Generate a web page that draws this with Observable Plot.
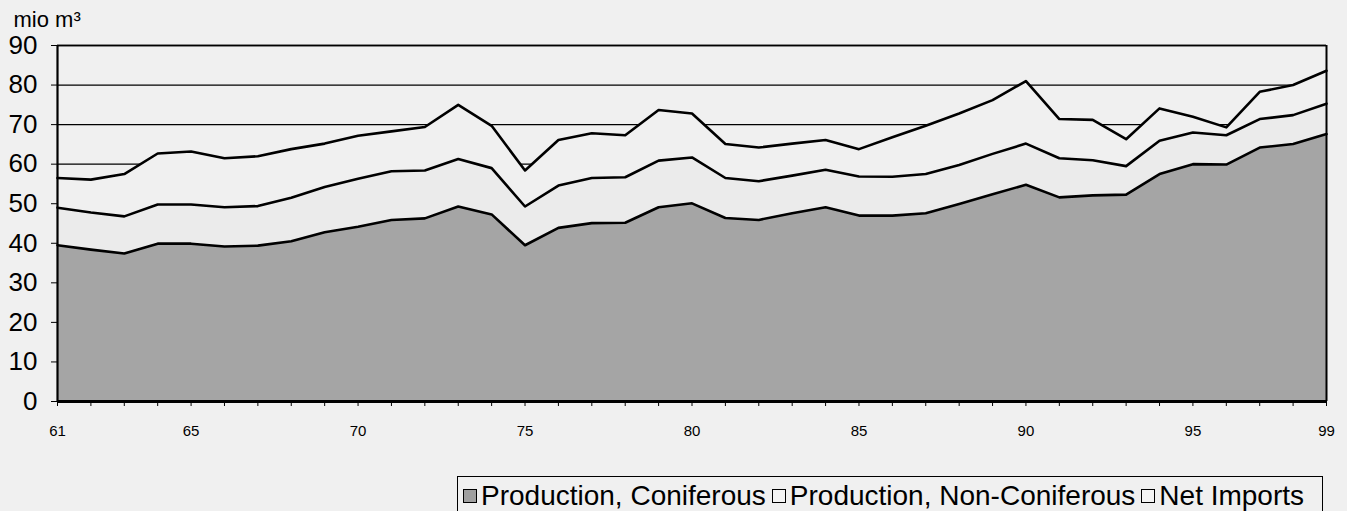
<!DOCTYPE html>
<html>
<head>
<meta charset="utf-8">
<script src="https://cdn.jsdelivr.net/npm/d3@7"></script>
<script src="https://cdn.jsdelivr.net/npm/@observablehq/plot@0.6"></script>
<style>
  body { margin: 0; background: #f0f0f0; font-family: "Liberation Sans", Arial, sans-serif; }
  #wrap { position: relative; width: 1347px; height: 511px; overflow: hidden; background: #f0f0f0; }
  #legend { position: absolute; left: 457px; top: 476px; width: 866px; height: 40px; box-sizing: border-box;
            border: 1.5px solid #000; background: #f0f0f0; display: flex; align-items: center;
            padding-left: 5px; font-size: 28px; color: #000; white-space: nowrap; }
  .sw { display: inline-block; width: 12px; height: 12px; border: 1.5px solid #000; margin-right: 4px; flex: none; }
  .lab { margin-right: 6px; }
</style>
</head>
<body>
<div id="wrap"></div>
<script>
// ---- data ----
const years = [61,62,63,64,65,66,67,68,69,70,71,72,73,74,75,76,77,78,79,80,81,82,83,84,85,86,87,88,89,90,91,92,93,94,95,96,97,98,99];
const coniferous = [39.5,38.4,37.4,39.9,39.9,39.2,39.4,40.5,42.8,44.2,45.9,46.3,49.3,47.3,39.5,43.9,45.1,45.2,49.1,50.1,46.4,45.9,47.6,49.1,47.0,47.0,47.6,49.9,52.4,54.8,51.6,52.1,52.3,57.5,60.0,59.9,64.2,65.1,67.6];
const nonConiferous = [9.5,9.4,9.4,9.9,9.9,9.9,10.0,11.0,11.4,12.1,12.3,12.1,12.0,11.7,9.8,10.7,11.4,11.5,11.8,11.6,10.1,9.8,9.5,9.5,9.9,9.8,9.9,9.9,10.2,10.4,9.9,8.9,7.2,8.4,8.0,7.4,7.2,7.3,7.7];
const netImports = [7.5,8.3,10.7,12.9,13.4,12.4,12.6,12.3,11.0,10.9,10.1,11.0,13.7,10.7,9.1,11.5,11.3,10.6,12.8,11.1,8.6,8.5,8.1,7.5,6.9,10.0,12.2,13.0,13.6,15.8,9.9,10.2,6.8,8.2,4.0,2.0,6.9,7.6,8.3];
const seriesNames = ["Production, Coniferous", "Production, Non-Coniferous", "Net Imports"];
const seriesColors = ["#a5a5a5", "#ebebeb", "#f0f0f0"];
const yTicks = [0,10,20,30,40,50,60,70,80,90];
const xLabelTicks = [61,65,70,75,80,85,90,95,99];
const yUnit = "mio m³";

// ---- table for the library ----
const seriesValues = [coniferous, nonConiferous, netImports];
const rows = [];
years.forEach((yr, i) => {
  seriesNames.forEach((s, k) => rows.push({year: yr, series: s, value: seriesValues[k][i]}));
});

const chart = Plot.plot({
  width: 1347,
  height: 460,
  marginLeft: 57,
  marginRight: 21,
  marginTop: 45,
  marginBottom: 59,
  style: {background: "transparent", fontFamily: "'Liberation Sans', Arial, sans-serif", color: "#000"},
  x: {domain: [years[0], years[years.length - 1]]},
  y: {domain: [yTicks[0], yTicks[yTicks.length - 1]]},
  color: {domain: seriesNames, range: seriesColors},
  marks: [
    Plot.ruleY(yTicks.filter(d => d > 0), {stroke: "#000", strokeWidth: 1.3}),
    Plot.areaY(rows, Plot.stackY({x: "year", y: "value", z: "series", fill: "series", order: seriesNames})),
    Plot.lineY(rows, Plot.stackY2({x: "year", y: "value", z: "series", order: seriesNames, stroke: "#000", strokeWidth: 2.6})),
    Plot.ruleY([yTicks[yTicks.length - 1]], {stroke: "#000", strokeWidth: 1.5}),
    Plot.ruleX([years[years.length - 1]], {y1: yTicks[0], y2: yTicks[yTicks.length - 1], stroke: "#000", strokeWidth: 2}),
    Plot.ruleX([years[0]], {y1: yTicks[0], y2: yTicks[yTicks.length - 1], stroke: "#000", strokeWidth: 2.2}),
    Plot.ruleY([0], {stroke: "#000", strokeWidth: 3}),
    Plot.axisY({ticks: yTicks, tickSize: 6, tickPadding: 14, fontSize: 26, label: null, tickFormat: d => String(d)}),
    Plot.axisX({ticks: years, tickSize: 5, tickFormat: () => "", label: null}),
    Plot.axisX({ticks: xLabelTicks, tickSize: 0, tickPadding: 24, fontSize: 15, label: null, tickFormat: d => String(d)}),
    Plot.text([yUnit], {frameAnchor: "top-left", dx: -44, dy: -19, lineAnchor: "bottom", fontSize: 22, textAnchor: "start", text: d => d})
  ]
});
document.getElementById("wrap").appendChild(chart);

// ---- legend below the plot ----
const legend = document.createElement("div");
legend.id = "legend";
seriesNames.forEach((s, k) => {
  const sw = document.createElement("span");
  sw.className = "sw";
  sw.style.background = k === 0 ? "#a0a0a0" : "#f4f4f4";
  const lab = document.createElement("span");
  lab.className = "lab";
  lab.textContent = s;
  legend.appendChild(sw);
  legend.appendChild(lab);
});
document.getElementById("wrap").appendChild(legend);
</script>
</body>
</html>
